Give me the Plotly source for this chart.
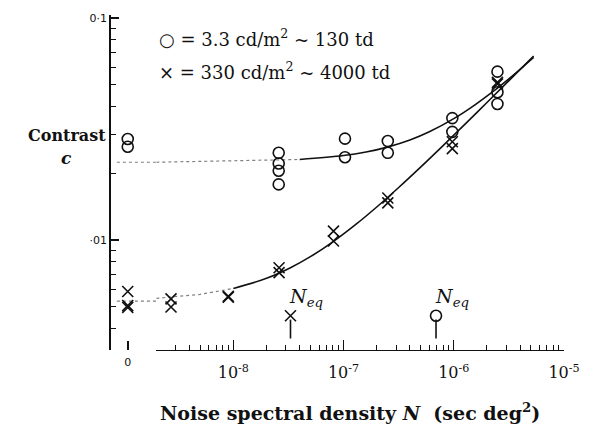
import math
import plotly.graph_objects as go

# ---------------- data ----------------
# N = 0 (no noise) measurements, drawn on the separate "0" axis
zero_circle_c = [0.0285, 0.0263]
zero_cross_c = [0.00586, 0.00507, 0.00497]

# 3.3 cd/m2 (circles)
circle_N = [2.58e-8, 2.58e-8, 2.58e-8, 2.58e-8, 1.03e-7, 1.03e-7,
            2.52e-7, 2.52e-7, 9.7e-7, 9.7e-7, 2.49e-6, 2.49e-6, 2.49e-6]
circle_c = [0.0247, 0.0221, 0.0205, 0.0178, 0.0286, 0.0236,
            0.0279, 0.0247, 0.0354, 0.0307, 0.0573, 0.0463, 0.0410]

# 330 cd/m2 (crosses)
cross_N = [2.72e-9, 2.72e-9, 9.0e-9, 9.0e-9, 2.6e-8, 2.6e-8, 8.1e-8, 8.1e-8,
           2.52e-7, 2.52e-7, 9.7e-7, 9.7e-7, 2.49e-6, 2.49e-6]
cross_c = [0.00543, 0.00499, 0.00557, 0.00552, 0.00750, 0.00713, 0.01096, 0.00990,
           0.01546, 0.01469, 0.0277, 0.0258, 0.0513, 0.0504]

# fitted curves
circle_flat_N = [2e-9, 4e-8]
circle_flat_c = [0.0224, 0.02305]
circle_curve_N = [4e-8, 1e-7, 1.6e-7, 2.5e-7, 4e-7, 6e-7, 1e-6, 1.5e-6,
                  2.2e-6, 3.2e-6, 4.3e-6, 5.3e-6]
circle_curve_c = [0.02305, 0.0240, 0.0249, 0.0262, 0.0282, 0.0307, 0.0352, 0.0401,
                  0.0461, 0.0535, 0.0606, 0.0664]

cross_flat_N = [2e-9, 5e-9, 1e-8]
cross_flat_c = [0.00546, 0.00569, 0.00605]
cross_curve_N = [1e-8, 2e-8, 3.3e-8, 5e-8, 8e-8, 1.3e-7, 2e-7, 3.2e-7, 5e-7,
                 8e-7, 1.3e-6, 2e-6, 3.2e-6, 5.3e-6]
cross_curve_c = [0.00605, 0.00672, 0.00750, 0.00841, 0.00981, 0.01178, 0.01408,
                 0.01733, 0.0213, 0.02663, 0.03369, 0.0416, 0.05246, 0.0674]

# flat level carried over the axis break
zero_flat_x = [-11, 29]
circle_c0 = 0.0224
cross_c0 = 0.0053

# equivalent noise markers
neq_cross_N = 3.3e-8
neq_circle_N = 6.9e-7
neq_marker_c = 0.00456
neq_stem_c = [0.00438, 0.00360]
neq_label_c = 0.0055

# axis ticks
x_major = [1e-8, 1e-7, 1e-6, 1e-5]
x_major_text = ["10<sup>-8</sup>", "10<sup>-7</sup>", "10<sup>-6</sup>", "10<sup>-5</sup>"]
x_minor = [m * 10.0 ** e for e in (-9, -8, -7, -6) for m in range(2, 10)]
y_major = [0.1, 0.01]
y_major_text = ["0·1", "·01"]
y_minor = [0.09, 0.08, 0.07, 0.06, 0.05, 0.04, 0.03, 0.02,
           0.009, 0.008, 0.007, 0.006, 0.005, 0.004]

SERIF = "DejaVu Serif"
BLACK = "#111111"
GRAY = "#808080"

fig = go.Figure()

# flat parts (light, dotted as in the print)
flat_line = dict(color=GRAY, width=1.2, dash="dot")
fig.add_trace(go.Scatter(x=zero_flat_x, y=[circle_c0, circle_c0], xaxis="x", yaxis="y",
                         mode="lines", line=flat_line))
fig.add_trace(go.Scatter(x=zero_flat_x, y=[cross_c0, cross_c0], xaxis="x", yaxis="y",
                         mode="lines", line=flat_line))
fig.add_trace(go.Scatter(x=circle_flat_N, y=circle_flat_c, xaxis="x2", yaxis="y",
                         mode="lines", line=flat_line))
fig.add_trace(go.Scatter(x=cross_flat_N, y=cross_flat_c, xaxis="x2", yaxis="y",
                         mode="lines", line=flat_line))
# solid curves
fig.add_trace(go.Scatter(x=circle_curve_N, y=circle_curve_c, xaxis="x2", yaxis="y",
                         mode="lines", line=dict(color=BLACK, width=1.6, shape="spline")))
fig.add_trace(go.Scatter(x=cross_curve_N, y=cross_curve_c, xaxis="x2", yaxis="y",
                         mode="lines", line=dict(color=BLACK, width=1.6, shape="spline")))

circ_marker = dict(symbol="circle-open", size=11, color=BLACK, line=dict(width=1.6, color=BLACK))
x_marker = dict(symbol="x-thin-open", size=11, color=BLACK, line=dict(width=1.6, color=BLACK))

# data points
fig.add_trace(go.Scatter(x=[0] * len(zero_circle_c), y=zero_circle_c, xaxis="x", yaxis="y",
                         mode="markers", marker=circ_marker))
fig.add_trace(go.Scatter(x=[0] * len(zero_cross_c), y=zero_cross_c, xaxis="x", yaxis="y",
                         mode="markers", marker=x_marker))
fig.add_trace(go.Scatter(x=circle_N, y=circle_c, xaxis="x2", yaxis="y",
                         mode="markers", marker=circ_marker))
fig.add_trace(go.Scatter(x=cross_N, y=cross_c, xaxis="x2", yaxis="y",
                         mode="markers", marker=x_marker))

# N_eq markers with stems
fig.add_trace(go.Scatter(x=[neq_cross_N, neq_cross_N], y=neq_stem_c, xaxis="x2", yaxis="y",
                         mode="lines", line=dict(color=BLACK, width=1.6)))
fig.add_trace(go.Scatter(x=[neq_circle_N, neq_circle_N], y=neq_stem_c, xaxis="x2", yaxis="y",
                         mode="lines", line=dict(color=BLACK, width=1.6)))
fig.add_trace(go.Scatter(x=[neq_cross_N], y=[neq_marker_c], xaxis="x2", yaxis="y",
                         mode="markers", marker=x_marker))
fig.add_trace(go.Scatter(x=[neq_circle_N], y=[neq_marker_c], xaxis="x2", yaxis="y",
                         mode="markers", marker=circ_marker))

W, H = 592, 435
ML, MR, MT, MB = 111, 21, 12, 85
PW, PH = W - ML - MR, H - MT - MB


def px(x, y):
    """pixel position on the page -> paper coordinates"""
    return (x - ML) / PW, 1 - (y - MT) / PH


annotations = []
# N_eq labels (log axes take log10 positions)
for n in (neq_cross_N, neq_circle_N):
    annotations.append(dict(x=math.log10(n), y=math.log10(neq_label_c), xref="x2", yref="y",
                            xanchor="left", yanchor="middle", xshift=-3, showarrow=False,
                            text="<i>N<sub>eq</sub></i>",
                            font=dict(family=SERIF, size=19, color=BLACK)))


def paper_text(x, y, text, size, xanchor="center"):
    ax, ay = px(x, y)
    annotations.append(dict(x=ax, y=ay, xref="paper", yref="paper", showarrow=False,
                            text=text, xanchor=xanchor, yanchor="middle",
                            font=dict(family=SERIF, size=size, color=BLACK)))


paper_text(158, 35, "○ = 3.3 cd/m<sup>2</sup> ~ 130 td", 18, xanchor="left")
paper_text(158, 68, "× = 330 cd/m<sup>2</sup> ~ 4000 td", 18, xanchor="left")
paper_text(66, 134, "<b>Contrast</b>", 16)
paper_text(66, 156, "<b><i>c</i></b>", 17)
paper_text(354, 413, "<b>Noise spectral density <i>N</i>  (sec deg<sup>2</sup>)</b>", 19)

fig.update_layout(
    width=W, height=H,
    margin=dict(l=ML, r=MR, t=MT, b=MB),
    paper_bgcolor="white", plot_bgcolor="white",
    showlegend=False,
    annotations=annotations,
    xaxis=dict(domain=[0, 0.1], range=[-17, 29], anchor="y", showline=False,
               showgrid=False, zeroline=False, ticks="inside", ticklen=9,
               tickwidth=1.5, tickcolor=BLACK, tickvals=[0], ticktext=["0"],
               ticklabelstandoff=4,
               tickfont=dict(family="DejaVu Sans", size=11, color=BLACK)),
    xaxis2=dict(domain=[0.1, 1], type="log", range=[-8.699, -5], anchor="y",
                showline=True, linecolor=BLACK, linewidth=1.2, showgrid=False,
                zeroline=False, ticks="inside", ticklen=10, tickwidth=1.3,
                tickcolor=BLACK, tickvals=x_major, ticktext=x_major_text,
                ticklabelstandoff=8,
                tickfont=dict(family=SERIF, size=16, color=BLACK),
                minor=dict(tickmode="array", tickvals=x_minor, ticks="inside",
                           ticklen=5, tickwidth=1, tickcolor=BLACK, showgrid=False)),
    yaxis=dict(type="log", range=[-2.4955, -0.9866], anchor="x", showline=True,
               linecolor=BLACK, linewidth=1.6, showgrid=False, zeroline=False,
               ticks="inside", ticklen=8, tickwidth=1.5, tickcolor=BLACK,
               tickvals=y_major, ticktext=y_major_text,
               tickfont=dict(family="DejaVu Sans", size=11, color=BLACK),
               minor=dict(tickmode="array", tickvals=y_minor, ticks="inside",
                          ticklen=5, tickwidth=1.3, tickcolor=BLACK, showgrid=False)),
)

fig.write_html("out.html")
